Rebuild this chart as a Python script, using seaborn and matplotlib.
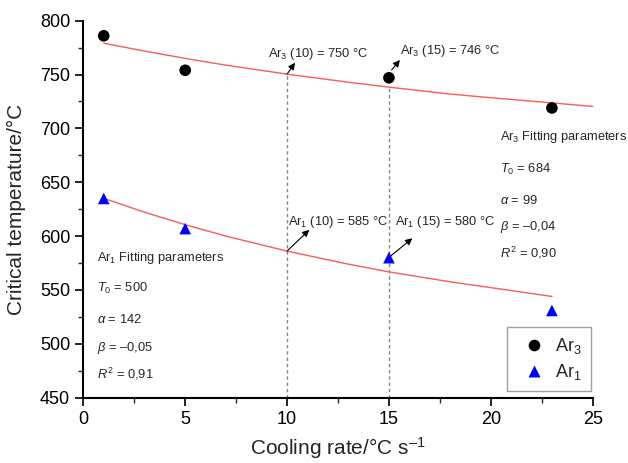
import matplotlib
matplotlib.use("Agg")
import matplotlib.pyplot as plt
import seaborn as sns
import pandas as pd
from matplotlib.ticker import MultipleLocator

# ---- data ----
rate = [1, 5, 15, 23]
ar3 = [786, 754, 747, 719]
ar1 = [635, 607, 580, 531]

fit3_x = [1, 3, 5, 7, 10, 13, 15, 18, 20, 23, 25]
fit3_y = [779.1, 771.8, 765.0, 758.7, 750.4, 742.9, 738.3, 731.9, 728.5, 723.7, 720.4]
fit1_x = [1, 3, 5, 7, 10, 13, 15, 18, 20, 23]
fit1_y = [635.1, 622.2, 610.6, 600.0, 586.1, 574.0, 566.8, 557.6, 552.2, 544.0]

guide_x = [10, 15]
guide_top = [750.4, 738.3]

x_ticks = [0, 5, 10, 15, 20, 25]
y_ticks = [450, 500, 550, 600, 650, 700, 750, 800]

sns.set_theme(style="ticks")
plt.rcParams["font.family"] = ["Liberation Sans", "DejaVu Sans"]
plt.rcParams["mathtext.fontset"] = "custom"
plt.rcParams["mathtext.rm"] = "Liberation Sans"
plt.rcParams["mathtext.it"] = "Liberation Sans:italic"
plt.rcParams["mathtext.sf"] = "Liberation Sans"

fig = plt.figure(figsize=(6.28, 4.63), dpi=100)
ax = fig.add_axes([0.1327, 0.141, 0.8110, 0.8143])

pts = pd.DataFrame({"rate": rate * 2, "T": ar3 + ar1,
                    "phase": ["Ar$_3$"] * 4 + ["Ar$_1$"] * 4})
f3 = pd.DataFrame({"x": fit3_x, "y": fit3_y})
f1 = pd.DataFrame({"x": fit1_x, "y": fit1_y})

sns.lineplot(data=f3, x="x", y="y", ax=ax, color="#ff5a5a", lw=1.0, legend=False, sort=True)
sns.lineplot(data=f1, x="x", y="y", ax=ax, color="#ff5a5a", lw=1.0, legend=False, sort=True)

ax.vlines(guide_x, 450, guide_top, colors="#888888", linestyles=(0, (2.5, 2)), lw=1.0)

sns.scatterplot(data=pts, x="rate", y="T", hue="phase", style="phase",
                palette={"Ar$_3$": "black", "Ar$_1$": "#0000ff"},
                markers={"Ar$_3$": "o", "Ar$_1$": "^"},
                s=70, edgecolor="none", ax=ax, zorder=5)

ax.set_xlim(0, 25)
ax.set_ylim(450, 800)
ax.set_xticks(x_ticks)
ax.set_yticks(y_ticks)
ax.xaxis.set_minor_locator(MultipleLocator(2.5))
ax.yaxis.set_minor_locator(MultipleLocator(25))
ax.tick_params(which="major", direction="out", length=6, width=1.2, labelsize=13, colors="black")
ax.tick_params(which="minor", direction="out", length=3.5, width=1.0)
for s in ["top", "right"]:
    ax.spines[s].set_visible(False)
for s in ["left", "bottom"]:
    ax.spines[s].set_linewidth(1.5)
    ax.spines[s].set_color("black")

ax.set_xlabel("Cooling rate/°C s$^{\u2013 1}$", fontsize=15, labelpad=5)
ax.set_ylabel("Critical temperature/°C", fontsize=15, labelpad=10)

# annotations
fs = 9.3
ap = dict(arrowstyle="-|>", color="black", lw=0.8, mutation_scale=10, shrinkA=0, shrinkB=0)
ax.annotate("", xy=(10.39, 761), xytext=(10.0, 750.4), arrowprops=ap)
ax.text(9.07, 769, "Ar$_3$ (10) = 750 °C", fontsize=fs, va="center", ha="left")
ax.annotate("", xy=(15.54, 763.5), xytext=(15.13, 754.2), arrowprops=ap)
ax.text(15.54, 772, "Ar$_3$ (15) = 746 °C", fontsize=fs, va="center", ha="left")
ax.annotate("", xy=(11.09, 605.9), xytext=(10.0, 586.1), arrowprops=ap)
ax.text(10.05, 613, "Ar$_1$ (10) = 585 °C", fontsize=fs, va="center", ha="left")
ax.annotate("", xy=(16.15, 598), xytext=(15.05, 581), arrowprops=ap)
ax.text(15.30, 613, "Ar$_1$ (15) = 580 °C", fontsize=fs, va="center", ha="left")

block3 = ["Ar$_3$ Fitting parameters", "$T_0$ = 684", r"$\alpha$ = 99",
          "$\\beta$ = \u20130,04", "$R^2$ = 0,90"]
y3 = [692, 662.3, 633.4, 608.4, 584.3]
for t, yy in zip(block3, y3):
    ax.text(20.45, yy, t, fontsize=fs, va="center", ha="left")

block1 = ["Ar$_1$ Fitting parameters", "$T_0$ = 500", r"$\alpha$ = 142",
          "$\\beta$ = \u20130,05", "$R^2$ = 0,91"]
y1 = [580, 551, 522.2, 496.5, 472]
for t, yy in zip(block1, y1):
    ax.text(0.66, yy, t, fontsize=fs, va="center", ha="left")

leg = ax.legend(loc="lower right", bbox_to_anchor=(0.997, 0.018), borderaxespad=0,
                fontsize=13, frameon=True, fancybox=False, edgecolor="#888888",
                handletextpad=0.2, borderpad=0.5, labelspacing=0.3, markerscale=1.0,
                handlelength=2.0)
leg.get_frame().set_linewidth(1.0)

fig.savefig("out.png", dpi=100)
